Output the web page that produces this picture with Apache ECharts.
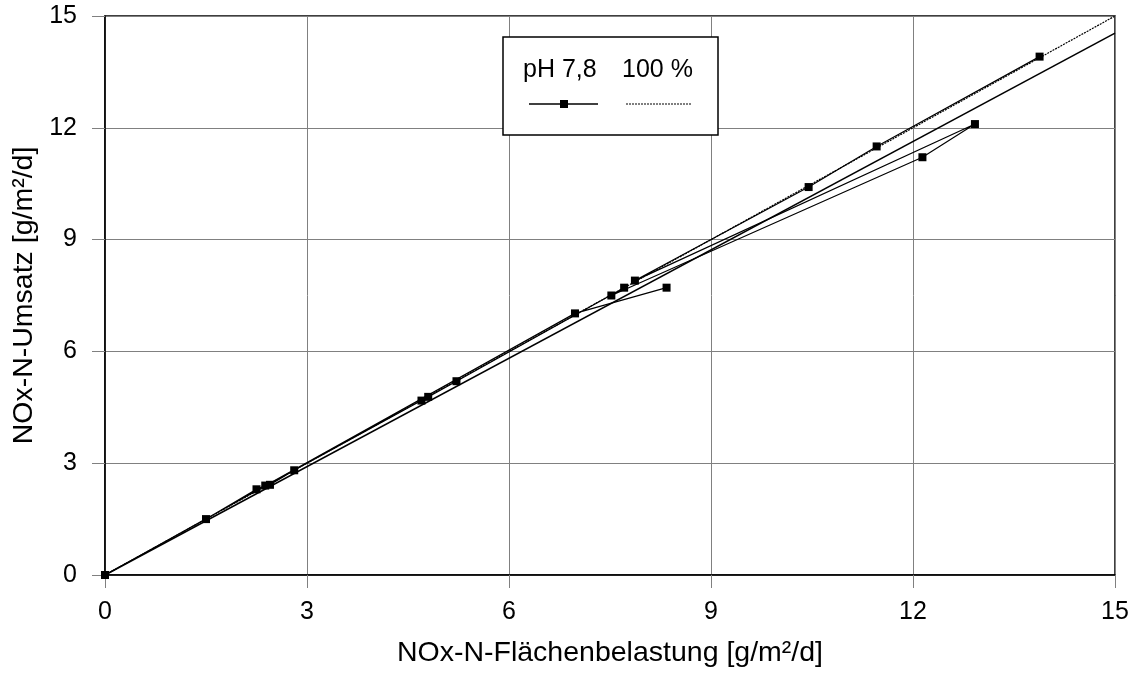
<!DOCTYPE html>
<html><head><meta charset="utf-8">
<script src="https://cdn.jsdelivr.net/npm/echarts@6/dist/echarts.min.js"></script>
<style>html,body{margin:0;padding:0;background:#fff}#c{width:1139px;height:673px}</style>
</head><body><div id="c"></div>
<script>
// measured points (x: Flächenbelastung, y: Umsatz) in drawing order
const phX = [13.88, 11.46, 10.45, 7.87, 12.92, 12.14, 7.52, 7.71, 5.22, 4.8, 4.7, 2.81, 2.45, 2.38, 2.25, 1.5, 0, 6.98, 8.34];
const phY = [13.91, 11.5, 10.41, 7.9, 12.1, 11.21, 7.5, 7.71, 5.2, 4.78, 4.68, 2.81, 2.42, 2.4, 2.3, 1.5, 0, 7.02, 7.71];
const trendX = [0, 15];
const trendY = [0, 14.54];
const idealX = [0, 15];
const idealY = [0, 15];
const ticks = [0, 3, 6, 9, 12, 15];
const seriesNames = ['pH 7,8', '100 %'];

const zip = (a, b) => a.map((v, i) => [v, b[i]]);
const font = 'Liberation Sans, Arial, sans-serif';
const chart = echarts.init(document.getElementById('c'), null, {renderer: 'canvas'});
const axisCommon = {
  type: 'value', min: 0, max: 15, interval: 3,
  axisLine: {show: true, onZero: false, lineStyle: {color: '#000', width: 1.5}},
  axisTick: {show: true, length: 13, lineStyle: {color: '#808080'}},
  splitLine: {show: true, lineStyle: {color: '#808080', width: 1}},
  axisLabel: {color: '#000', fontSize: 25, fontFamily: font, formatter: v => ticks.includes(v) ? String(v) : ''},
  nameLocation: 'middle',
  nameTextStyle: {color: '#000', fontSize: 28.5, fontFamily: font}
};
chart.setOption({
  animation: false,
  grid: {left: 105, right: 24, top: 16, bottom: 97, show: true, borderColor: '#000', borderWidth: 1.5},
  xAxis: Object.assign({}, axisCommon, {name: 'NOx-N-Flächenbelastung [g/m²/d]', nameGap: 64,
    axisLabel: Object.assign({}, axisCommon.axisLabel, {margin: 25})}),
  yAxis: Object.assign({}, axisCommon, {name: 'NOx-N-Umsatz [g/m²/d]', nameGap: 52,
    axisLabel: Object.assign({}, axisCommon.axisLabel, {margin: 28})}),
  series: [
    {name: seriesNames[1], type: 'line', data: zip(idealX, idealY), symbol: 'none',
     lineStyle: {color: '#000', width: 1.2, type: [2, 1]}, z: 2},
    {name: 'trend', type: 'line', data: zip(trendX, trendY), symbol: 'none',
     lineStyle: {color: '#000', width: 1.6}, z: 3},
    {name: seriesNames[0], type: 'line', data: zip(phX, phY), symbol: 'rect', symbolSize: 8,
     itemStyle: {color: '#000'}, lineStyle: {color: '#000', width: 1.2}, z: 4}
  ],
  graphic: [
    {type: 'rect', shape: {x: 503, y: 37, width: 215, height: 98}, style: {fill: '#fff', stroke: '#000', lineWidth: 1.5}, z: 10},
    {type: 'text', x: 523, y: 70.5, style: {text: seriesNames[0], font: '25px ' + font, fill: '#000', verticalAlign: 'middle'}, z: 11},
    {type: 'text', x: 622, y: 70.5, style: {text: seriesNames[1], font: '25px ' + font, fill: '#000', verticalAlign: 'middle'}, z: 11},
    {type: 'line', shape: {x1: 529, y1: 104, x2: 598, y2: 104}, style: {stroke: '#000', lineWidth: 1.5}, z: 11},
    {type: 'rect', shape: {x: 560, y: 100, width: 8, height: 8}, style: {fill: '#000'}, z: 12},
    {type: 'line', shape: {x1: 626, y1: 104, x2: 692, y2: 104}, style: {stroke: '#000', lineWidth: 1.2, lineDash: [2, 1]}, z: 11}
  ]
});
</script></body></html>
